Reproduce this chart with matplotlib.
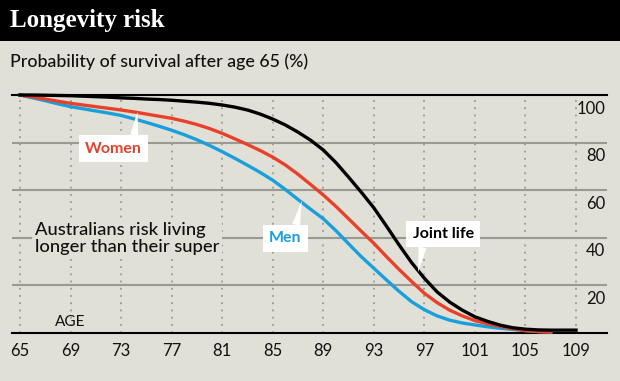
import matplotlib
matplotlib.use("Agg")
import matplotlib.pyplot as plt
from matplotlib.patches import Rectangle

# survival after age 65 (%), one value per year of age
ages = list(range(65, 110))
joint = [100, 100, 99.9, 99.8, 99.7, 99.5, 99.3, 99.1, 98.8, 98.6, 98.3, 98.1, 97.8, 97.4, 97.0,
         96.5, 95.8, 94.9, 93.7, 92.0, 89.9, 87.4, 84.4, 81.0, 76.9, 71.6, 65.5, 59.2, 52.6, 44.9,
         37.0, 29.5, 23.0, 17.3, 13.0, 9.6, 6.8, 4.9, 3.3, 2.2, 1.6, 1.3, 1.2, 1.2, 1.2]
women = [100, 99.2, 98.3, 97.4, 96.5, 95.8, 95.1, 94.4, 93.7, 92.9, 92.0, 91.1, 90.2, 89.0, 87.6,
         85.9, 83.9, 81.6, 79.2, 76.7, 73.9, 70.6, 66.7, 62.4, 58.0, 53.2, 48.0, 42.8, 37.7, 32.1,
         26.7, 21.6, 16.7, 12.8, 9.6, 7.2, 5.2, 3.9, 2.8, 1.8, 1.0, 0.6, 0.4]
men = [100, 98.8, 97.6, 96.3, 95.1, 94.2, 93.3, 92.4, 91.4, 90.0, 88.5, 86.9, 85.2, 83.3, 81.2,
       78.8, 76.2, 73.4, 70.5, 67.5, 64.2, 60.3, 56.1, 52.0, 48.0, 43.0, 37.5, 32.1, 27.2, 22.3,
       17.5, 13.1, 9.8, 7.2, 5.4, 4.2, 3.4, 2.6, 2.0, 1.5, 1.0, 0.6, 0.4]

xticks = list(range(65, 110, 4))
yticks = [20, 40, 60, 80, 100]

BG = '#e1e0d6'
RED = '#e8412b'
BLUE = '#199fdc'
INK = '#111111'

plt.rcParams['font.family'] = ['Lato', 'DejaVu Sans']

fig = plt.figure(figsize=(6.2, 3.81), dpi=100)
fig.patch.set_facecolor(BG)

# black title bar
fig.patches.append(Rectangle((0, 1 - 41 / 381), 1, 41 / 381, transform=fig.transFigure,
                             facecolor='black', edgecolor='none', zorder=0))
fig.text(10 / 620, 1 - 21 / 381, 'Longevity risk', color='white', fontsize=18,
         fontweight='bold', family=['Liberation Serif', 'DejaVu Serif'], va='center')
fig.text(10 / 620, 1 - 62 / 381, 'Probability of survival after age 65 (%)',
         color=INK, fontsize=12.8, fontweight='medium', va='center')

ax = fig.add_axes([12 / 620, 48 / 381, 595 / 620, 238 / 381])
ax.set_facecolor(BG)
ax.set_xlim(64.37, 111.45)
ax.set_ylim(0, 100)

for s in ['left', 'right']:
    ax.spines[s].set_visible(False)
for s in ['top', 'bottom']:
    ax.spines[s].set_color('black')
    ax.spines[s].set_linewidth(1.5)

for v in yticks[:-1]:
    ax.axhline(v, color='#9a9a94', lw=1.5, zorder=1)
for t in xticks:
    ax.axvline(t, color='#9a9a94', lw=1.3, ls=(0, (1, 3)), zorder=1)

ax.set_xticks(xticks)
ax.set_xticklabels([str(t) for t in xticks], fontsize=12)
ax.tick_params(axis='x', length=0, pad=7, colors=INK)
ax.set_yticks([])

for v in yticks:
    ax.annotate(str(v), (111.3, v), xytext=(0, -4), textcoords='offset points',
                ha='right', va='top', fontsize=12, color=INK)

ax.plot(ages[:len(men)], men, color=BLUE, lw=2.4, zorder=3, clip_on=False)
ax.plot(ages[:len(women)], women, color=RED, lw=2.4, zorder=4, clip_on=False)
ax.plot(ages, joint, color='black', lw=2.4, zorder=5, clip_on=False)

box = dict(boxstyle='square,pad=0.4', facecolor='white', edgecolor='none')
wedge = dict(arrowstyle='wedge,tail_width=0.5,shrink_factor=0.5', facecolor='white',
             edgecolor='none', shrinkA=0, shrinkB=0)

ax.annotate('Women', xy=(74.3, 93.0), xytext=(72.4, 77.5), color=RED, fontsize=11.5,
            fontweight='bold', ha='center', va='center', bbox=box,
            arrowprops=dict(wedge, relpos=(0.85, 1)), zorder=6)
ax.annotate('Men', xy=(87.3, 55.6), xytext=(86.0, 39.8), color=BLUE, fontsize=11.5,
            fontweight='bold', ha='center', va='center', bbox=box,
            arrowprops=dict(wedge, relpos=(0.79, 1)), zorder=6)
ax.annotate('Joint life', xy=(96.5, 25.5), xytext=(98.5, 41.6), color='black', fontsize=11.5,
            fontweight='bold', ha='center', va='center', bbox=box,
            arrowprops=dict(wedge, relpos=(0.18, 0)), zorder=6)

ax.text(66.2, 39.8, 'Australians risk living\nlonger than their super', fontsize=13.2,
        color=INK, fontweight='medium', ha='left', va='center', linespacing=1.1,
        bbox=dict(boxstyle='square,pad=0.15', facecolor=BG, edgecolor='none'), zorder=2)
ax.text(69, 4.8, 'AGE', fontsize=11, color=INK, ha='center', va='center', zorder=2)

fig.savefig('out.png', dpi=100, facecolor=BG)
